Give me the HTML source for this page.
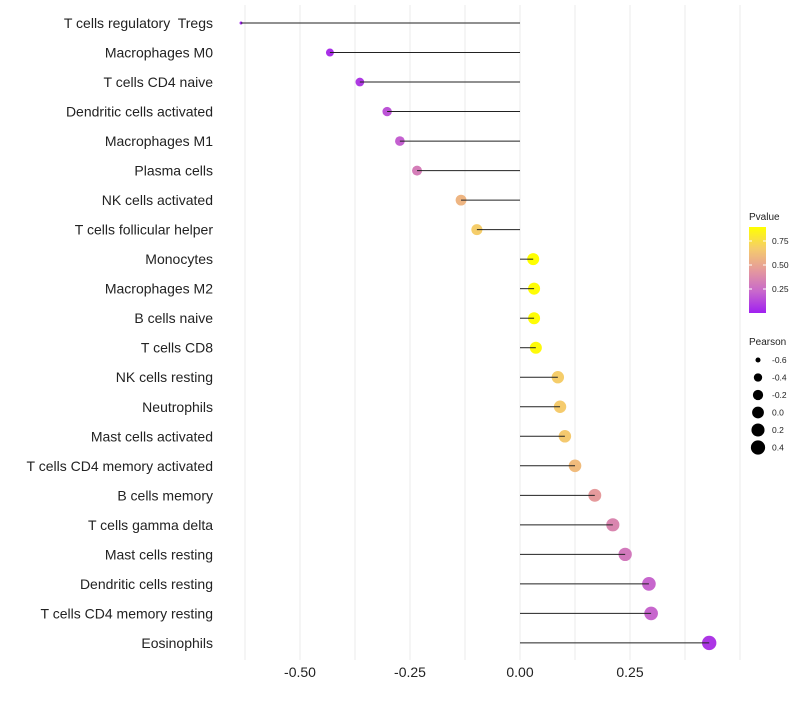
<!DOCTYPE html>
<html><head><meta charset="utf-8"><style>
body{margin:0;background:#fff;font-family:"Liberation Sans",Arial,sans-serif}
svg text{font-family:"Liberation Sans",Arial,sans-serif;white-space:pre}
</style></head><body>
<svg id="chart" width="800" height="700" xmlns="http://www.w3.org/2000/svg"></svg>
<script>
const categories=["T cells regulatory  Tregs","Macrophages M0","T cells CD4 naive","Dendritic cells activated","Macrophages M1","Plasma cells","NK cells activated","T cells follicular helper","Monocytes","Macrophages M2","B cells naive","T cells CD8","NK cells resting","Neutrophils","Mast cells activated","T cells CD4 memory activated","B cells memory","T cells gamma delta","Mast cells resting","Dendritic cells resting","T cells CD4 memory resting","Eosinophils"];
const pearson=[-0.634,-0.432,-0.364,-0.302,-0.273,-0.234,-0.134,-0.098,0.030,0.032,0.032,0.036,0.086,0.091,0.102,0.125,0.170,0.211,0.239,0.293,0.298,0.430];
const pvalues=[0.005,0.05,0.08,0.16,0.20,0.32,0.57,0.68,0.90,0.89,0.89,0.88,0.68,0.67,0.66,0.60,0.45,0.36,0.30,0.22,0.22,0.07];
const xTicks=[-0.5,-0.25,0,0.25];
const xTickLabels=["-0.50","-0.25","0.00","0.25"];
const pLegendTicks=[0.25,0.5,0.75];
const sizeLegend=[-0.6,-0.4,-0.2,0.0,0.2,0.4];
const NS="http://www.w3.org/2000/svg";
const svg=document.getElementById('chart');
const x=v=>520+440*v;
const y=i=>23+i*29.52;
const rad=v=>1.5+5.7*Math.sqrt(Math.max(0,(v+0.634)/1.064));
const stops=[[160,32,240],[200,104,204],[229,154,156],[245,204,108],[255,255,0]];
function col(p){let t=Math.max(0,Math.min(1,p/0.9))*4;const i=Math.min(3,Math.floor(t));const f=t-i;
 const c=stops[i].map((v,k)=>Math.round(v+(stops[i+1][k]-v)*f));return `rgb(${c.join(',')})`;}
function mk(tag,attrs,parent){const e=document.createElementNS(NS,tag);for(const k in attrs)e.setAttribute(k,attrs[k]);(parent||svg).appendChild(e);return e;}
for(let v=-0.625;v<=0.5;v+=0.125){
 const g=mk('line',{x1:x(v),x2:x(v),y1:5,y2:660,stroke:'#ebebeb','stroke-width':1});
 
 
}
xTicks.forEach((v,i)=>{
 const t=mk('text',{x:x(v),y:677,'text-anchor':'middle','font-size':14,fill:'#222'});
 t.textContent=xTickLabels[i];
 
 
});
categories.forEach((c,i)=>{
 const t=mk('text',{x:213,y:y(i)+5,'text-anchor':'end','font-size':14,fill:'#222'});
 t.textContent=c;
 
 
 const d=mk('circle',{cx:x(pearson[i]),cy:y(i),r:rad(pearson[i]),fill:col(pvalues[i])});
 
 
 const l=mk('line',{x1:x(0),x2:x(pearson[i]),y1:y(i),y2:y(i),stroke:'#222','stroke-width':1});
 
 
});
const lg=mk('g',{});


mk('text',{x:749,y:220,'font-size':10,fill:'#222'},lg).textContent='Pvalue';
const defs=mk('defs',{});
const gr=mk('linearGradient',{id:'pg',x1:0,y1:1,x2:0,y2:0},defs);
[0,0.25,0.5,0.75,1].forEach(s=>mk('stop',{offset:s,'stop-color':col(s*0.9)},gr));
mk('rect',{x:749,y:227,width:17,height:86,fill:'url(#pg)'},lg);
pLegendTicks.forEach(p=>{const yy=313-p*96;
 mk('line',{x1:749,x2:752,y1:yy,y2:yy,stroke:'#fff'},lg);mk('line',{x1:763,x2:766,y1:yy,y2:yy,stroke:'#fff'},lg);
 mk('text',{x:772,y:yy+3,'font-size':8.5,fill:'#222'},lg).textContent=p.toFixed(2);});
const sg=mk('g',{});


mk('text',{x:749,y:345,'font-size':10,fill:'#222'},sg).textContent='Pearson';
sizeLegend.forEach((v,i)=>{const yy=360+i*17.5;
 mk('circle',{cx:758,cy:yy,r:rad(v),fill:'#000'},sg);
 mk('text',{x:772,y:yy+3,'font-size':8.5,fill:'#222'},sg).textContent=v.toFixed(1);});
</script>
</body></html>
